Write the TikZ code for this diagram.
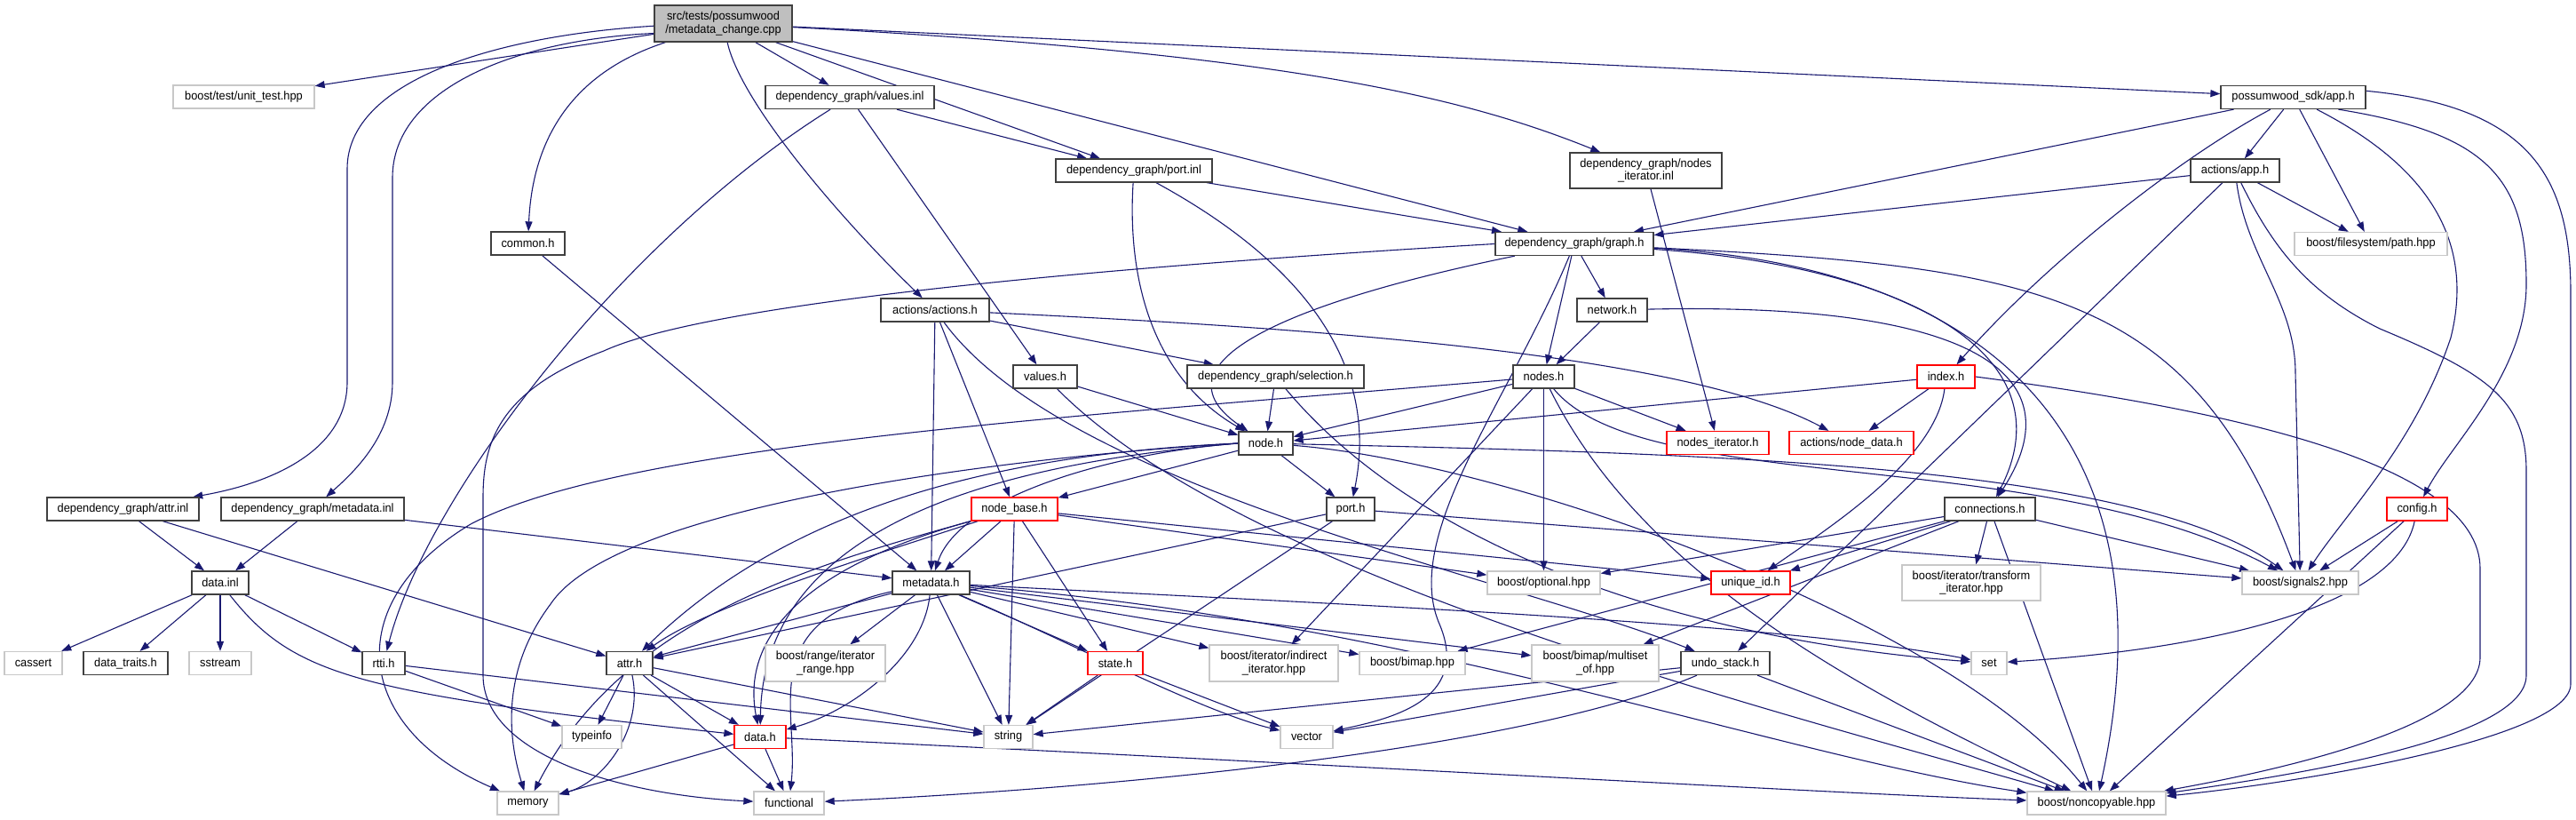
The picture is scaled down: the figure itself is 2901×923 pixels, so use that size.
\documentclass[tikz,border=0pt]{standalone}
\usepackage{fontspec}
\setmainfont{Liberation Sans}[FakeStretch=0.95]
\usetikzlibrary{arrows.meta}
\definecolor{edgec}{HTML}{191970}
\definecolor{boxgray}{HTML}{BFBFBF}
\definecolor{bord}{HTML}{404040}
\definecolor{lgray}{HTML}{C8C8C8}
\pgfdeclarelayer{bg}
\pgfsetlayers{bg,main}
\begin{document}
\begin{tikzpicture}[x=1pt,y=-1pt,
  bk/.style={draw=bord,line width=1.3pt,fill=white,inner sep=0pt,minimum height=26pt,
    font=\fontsize{13.5}{14.5}\selectfont,align=center},
  gy/.style={bk,draw=lgray},
  rd/.style={bk,draw=red},
  e/.style={draw=edgec,line width=1.1pt,-{Triangle[length=11pt,width=8pt]}}]
\useasboundingbox (0,0) rectangle (2901,923);
\node[bk,minimum width=155pt,minimum height=41pt,fill=boxgray] (main) at (814.5,26.5) {src/tests/possumwood\\/metadata\_change.cpp};
\node[gy,minimum width=159pt] (unittest) at (274.5,109) {boost/test/unit\_test.hpp};
\node[bk,minimum width=190pt] (valuesinl) at (957,109.5) {dependency\_graph/values.inl};
\node[bk,minimum width=163pt] (sdkapp) at (2582.5,109.5) {possumwood\_sdk/app.h};
\node[bk,minimum width=176pt] (portinl) at (1277,192) {dependency\_graph/port.inl};
\node[bk,minimum width=171pt,minimum height=40pt] (nodesiterinl) at (1853.5,192) {dependency\_graph/nodes\\\_iterator.inl};
\node[bk,minimum width=100pt] (actapp) at (2517,192) {actions/app.h};
\node[bk,minimum width=83pt] (common) at (594.5,274) {common.h};
\node[bk,minimum width=178pt] (graph) at (1773,274.5) {dependency\_graph/graph.h};
\node[gy,minimum width=172pt] (path) at (2670,274.5) {boost/filesystem/path.hpp};
\node[bk,minimum width=122pt] (actions) at (1053,349) {actions/actions.h};
\node[bk,minimum width=79pt] (network) at (1815.5,349) {network.h};
\node[bk,minimum width=72pt] (valuesh) at (1177,424) {values.h};
\node[bk,minimum width=199pt] (selection) at (1436.5,424) {dependency\_graph/selection.h};
\node[bk,minimum width=69pt] (nodes) at (1738.5,424) {nodes.h};
\node[rd,minimum width=65pt] (index) at (2191.5,424) {index.h};
\node[bk,minimum width=61pt] (node) at (1425.5,499) {node.h};
\node[rd,minimum width=115pt] (nodesiter) at (1934.5,498.5) {nodes\_iterator.h};
\node[rd,minimum width=140pt] (nodedata) at (2085,498.5) {actions/node\_data.h};
\node[bk,minimum width=171pt] (attrinl) at (138.5,573) {dependency\_graph/attr.inl};
\node[bk,minimum width=206pt] (metainl) at (352,573) {dependency\_graph/metadata.inl};
\node[rd,minimum width=97pt] (nodebase) at (1142.5,573) {node\_base.h};
\node[bk,minimum width=54pt] (porth) at (1521,573) {port.h};
\node[bk,minimum width=102pt] (connections) at (2241,573) {connections.h};
\node[rd,minimum width=68pt] (config) at (2722,573) {config.h};
\node[bk,minimum width=64pt] (datainl) at (248,656) {data.inl};
\node[bk,minimum width=87pt] (metadata) at (1048.5,656) {metadata.h};
\node[gy,minimum width=127pt] (optional) at (1738.5,656) {boost/optional.hpp};
\node[rd,minimum width=89pt] (uniqueid) at (1971.5,656) {unique\_id.h};
\node[gy,minimum width=156pt,minimum height=40pt] (transform) at (2220,656) {boost/iterator/transform\\\_iterator.hpp};
\node[gy,minimum width=131pt] (signals) at (2590.5,656) {boost/signals2.hpp};
\node[gy,minimum width=65pt] (cassert) at (37.5,746.5) {cassert};
\node[bk,minimum width=95pt] (datatraits) at (141.5,746.5) {data\_traits.h};
\node[gy,minimum width=70pt] (sstream) at (248,746.5) {sstream};
\node[bk,minimum width=48pt] (rtti) at (432,746.5) {rtti.h};
\node[bk,minimum width=52pt] (attrh) at (709,746.5) {attr.h};
\node[gy,minimum width=135pt,minimum height=41pt] (rangeit) at (929.5,746.5) {boost/range/iterator\\\_range.hpp};
\node[rd,minimum width=62pt] (state) at (1256,746.5) {state.h};
\node[gy,minimum width=145pt,minimum height=41pt] (indirect) at (1434.5,746.5) {boost/iterator/indirect\\\_iterator.hpp};
\node[gy,minimum width=119pt] (bimap) at (1590.5,746.5) {boost/bimap.hpp};
\node[gy,minimum width=143pt,minimum height=41pt] (multiset) at (1796.5,746.5) {boost/bimap/multiset\\\_of.hpp};
\node[bk,minimum width=100pt] (undo) at (1943,746.5) {undo\_stack.h};
\node[gy,minimum width=40pt] (set) at (2240,746.5) {set};
\node[gy,minimum width=67pt] (typeinfo) at (666.5,829.5) {typeinfo};
\node[rd,minimum width=58pt] (datah) at (856,829.5) {data.h};
\node[gy,minimum width=55pt] (string) at (1135.5,829.5) {string};
\node[gy,minimum width=59pt] (vector) at (1471.5,829.5) {vector};
\node[gy,minimum width=69pt] (memory) at (594.5,904) {memory};
\node[gy,minimum width=79pt] (functional) at (888.5,904) {functional};
\node[gy,minimum width=156pt] (noncopyable) at (2361,904) {boost/noncopyable.hpp};
\begin{pgfonlayer}{bg}
% main
\draw[e] (main) -- (unittest);
\draw[e] (main) -- (valuesinl);
\draw[e] (main) -- (portinl);
\draw[e] (main) -- (graph);
\draw[e] (main) .. controls (1450,60) and (1650,110) .. (nodesiterinl);
\draw[e] (main) -- (sdkapp);
\draw[e] (main) .. controls (650,80) and (600,150) .. (common);
\draw[e] (main) .. controls (835,120) and (960,260) .. (actions);
\draw[e] (main.182) .. controls (560,40) and (391,90) .. (391,190) -- (391,430) .. controls (391,510) and (300,545) .. (attrinl);
\draw[e] (main.188) .. controls (580,45) and (442,100) .. (442,200) -- (442,430) .. controls (442,490) and (400,530) .. (metainl);
% values.inl
\draw[e] (valuesinl) -- (portinl);
\draw[e] (valuesinl) -- (valuesh);
\draw[e] (valuesinl) .. controls (700,270) and (480,560) .. (rtti);
% port.inl
\draw[e] (portinl) -- (graph);
\draw[e] (portinl) .. controls (1270,300) and (1290,420) .. (node);
\draw[e] (portinl) .. controls (1420,270) and (1560,380) .. (porth);
\draw[e] (nodesiterinl) -- (nodesiter);
% sdk app
\draw[e] (sdkapp) -- (graph);
\draw[e] (sdkapp) -- (actapp);
\draw[e] (sdkapp) -- (path);
\draw[e] (sdkapp) .. controls (2450,180) and (2300,300) .. (index);
\draw[e] (sdkapp) .. controls (2720,180) and (2790,260) .. (2760,380) .. controls (2720,500) and (2640,580) .. (signals);
\draw[e] (sdkapp.-15) .. controls (2800,150) and (2845,200) .. (2845,320) .. controls (2845,420) and (2760,500) .. (config);
\draw[e] (sdkapp.5) .. controls (2850,120) and (2895,200) .. (2895,330) -- (2895,770) .. controls (2895,830) and (2600,880) .. (noncopyable);
% actions/app.h
\draw[e] (actapp) -- (graph);
\draw[e] (actapp) -- (path);
\draw[e] (actapp) -- (undo);
\draw[e] (actapp) .. controls (2530,290) and (2585,340) .. (2585,420) -- (signals);
\draw[e] (actapp) .. controls (2560,280) and (2600,330) .. (2680,370) .. controls (2800,420) and (2845,450) .. (2845,530) -- (2845,760) .. controls (2845,830) and (2600,870) .. (noncopyable);
\draw[e] (common) -- (metadata);
% graph.h
\draw[e] (graph) -- (network);
\draw[e] (graph) -- (nodes);
\draw[e] (graph) .. controls (1500,330) and (1280,400) .. (node);
\draw[e] (graph.west) .. controls (1250,300) and (800,340) .. (680,395) .. controls (560,440) and (544,500) .. (544,560) -- (544,760) .. controls (544,850) and (700,895) .. (functional);
\draw[e] (graph) .. controls (2150,300) and (2330,400) .. (connections);
\draw[e] (graph) .. controls (2300,300) and (2470,330) .. (signals);
\draw[e] (graph) .. controls (2250,300) and (2450,500) .. (noncopyable);
\draw[e] (graph) .. controls (1700,450) and (1580,600) .. (1620,700) .. controls (1660,790) and (1560,810) .. (vector);
\draw[e] (network) -- (nodes);
\draw[e] (network) .. controls (2220,340) and (2340,420) .. (connections);
% actions.h
\draw[e] (actions) -- (selection);
\draw[e] (actions) .. controls (1500,370) and (1900,400) .. (nodedata);
\draw[e] (actions) -- (nodebase);
\draw[e] (actions) -- (metadata);
\draw[e] (actions) .. controls (1200,550) and (1700,650) .. (undo);
\draw[e] (valuesh) -- (node);
\draw[e] (valuesh) .. controls (1400,650) and (2000,800) .. (noncopyable);
\draw[e] (selection) -- (node);
\draw[e] (selection) .. controls (1600,620) and (1900,720) .. (set);
% nodes.h
\draw[e] (nodes) -- (node);
\draw[e] (nodes) -- (nodesiter);
\draw[e] (nodes) -- (optional);
\draw[e] (nodes) -- (indirect);
\draw[e] (nodes) .. controls (1850,650) and (2100,780) .. (noncopyable);
\draw[e] (nodes) .. controls (1850,560) and (2300,500) .. (signals);
\draw[e] (nodes) .. controls (1200,470) and (700,500) .. (530,590) .. controls (380,680) and (400,820) .. (memory);
% index.h
\draw[e] (index) -- (node);
\draw[e] (index) -- (nodedata);
\draw[e] (index) .. controls (2180,520) and (2050,600) .. (uniqueid);
\draw[e] (index.east) .. controls (2500,460) and (2793,520) .. (2793,640) -- (2793,740) .. controls (2793,820) and (2550,870) .. (noncopyable);
% node.h
\draw[e] (node) -- (porth);
\draw[e] (node) -- (nodebase);
\draw[e] (node.west) .. controls (1250,510) and (1080,560) .. (metadata);
\draw[e] (node.west) .. controls (1150,510) and (900,560) .. (attrh);
\draw[e] (node.west) .. controls (1150,520) and (860,580) .. (datah);
\draw[e] (node.west) .. controls (1200,510) and (700,560) .. (620,680) .. controls (560,760) and (575,840) .. (memory);
\draw[e] (node) .. controls (1900,510) and (2400,520) .. (signals);
\draw[e] (node) .. controls (1700,520) and (2200,700) .. (noncopyable);
% inl
\draw[e] (attrinl) -- (datainl);
\draw[e] (attrinl) -- (attrh);
\draw[e] (metainl) -- (datainl);
\draw[e] (metainl) -- (metadata);
% node_base.h
\draw[e] (nodebase) -- (metadata);
\draw[e] (nodebase) .. controls (1000,620) and (800,680) .. (attrh);
\draw[e] (nodebase) .. controls (900,640) and (835,720) .. (datah);
\draw[e] (nodebase) -- (string);
\draw[e] (nodebase) -- (state);
\draw[e] (nodebase) -- (optional);
\draw[e] (nodebase) -- (uniqueid);
\draw[e] (nodebase) .. controls (900,640) and (700,700) .. (memory);
% port.h
\draw[e] (porth) -- (attrh);
\draw[e] (porth) -- (string);
\draw[e] (porth) -- (signals);
% connections.h
\draw[e] (connections) -- (optional);
\draw[e] (connections) -- (uniqueid);
\draw[e] (connections) -- (transform);
\draw[e] (connections) -- (bimap);
\draw[e] (connections) -- (multiset);
\draw[e] (connections) -- (signals);
\draw[e] (connections) -- (noncopyable);
% config.h
\draw[e] (config) -- (signals);
\draw[e] (config) .. controls (2700,680) and (2500,730) .. (set);
\draw[e] (config) -- (noncopyable);
% data.inl
\draw[e] (datainl) -- (cassert);
\draw[e] (datainl) -- (datatraits);
\draw[e] (datainl) -- (sstream);
\draw[e] (datainl) -- (rtti);
\draw[e] (datainl) .. controls (330,760) and (400,780) .. (datah);
% metadata.h
\draw[e] (metadata) .. controls (1040,740) and (960,800) .. (datah);
\draw[e] (metadata) -- (string);
\draw[e] (metadata) -- (state);
\draw[e] (metadata) -- (rangeit);
\draw[e] (metadata) -- (indirect);
\draw[e] (metadata) -- (bimap);
\draw[e] (metadata) -- (multiset);
\draw[e] (metadata) .. controls (1500,680) and (2000,700) .. (set);
\draw[e] (metadata) .. controls (1200,720) and (1350,800) .. (vector);
\draw[e] (metadata) .. controls (850,700) and (900,800) .. (functional);
\draw[e] (metadata) -- (attrh);
\draw[e] (metadata) .. controls (1600,700) and (2000,850) .. (noncopyable);
% attr.h
\draw[e] (attrh) -- (datah);
\draw[e] (attrh) -- (string);
\draw[e] (attrh) -- (typeinfo);
\draw[e] (attrh) .. controls (725,820) and (680,880) .. (memory);
\draw[e] (attrh) -- (functional);
\draw[e] (rtti) -- (typeinfo);
\draw[e] (rtti) -- (string);
\draw[e] (datah) -- (memory);
\draw[e] (datah) -- (functional);
\draw[e] (datah) .. controls (1500,860) and (2000,890) .. (noncopyable);
\draw[e] (state) -- (string);
\draw[e] (state) -- (vector);
\draw[e] (undo) -- (string);
\draw[e] (undo) -- (vector);
\draw[e] (undo) .. controls (1700,850) and (1200,890) .. (functional);
\draw[e] (undo) -- (noncopyable);
\end{pgfonlayer}
\end{tikzpicture}
\end{document}
